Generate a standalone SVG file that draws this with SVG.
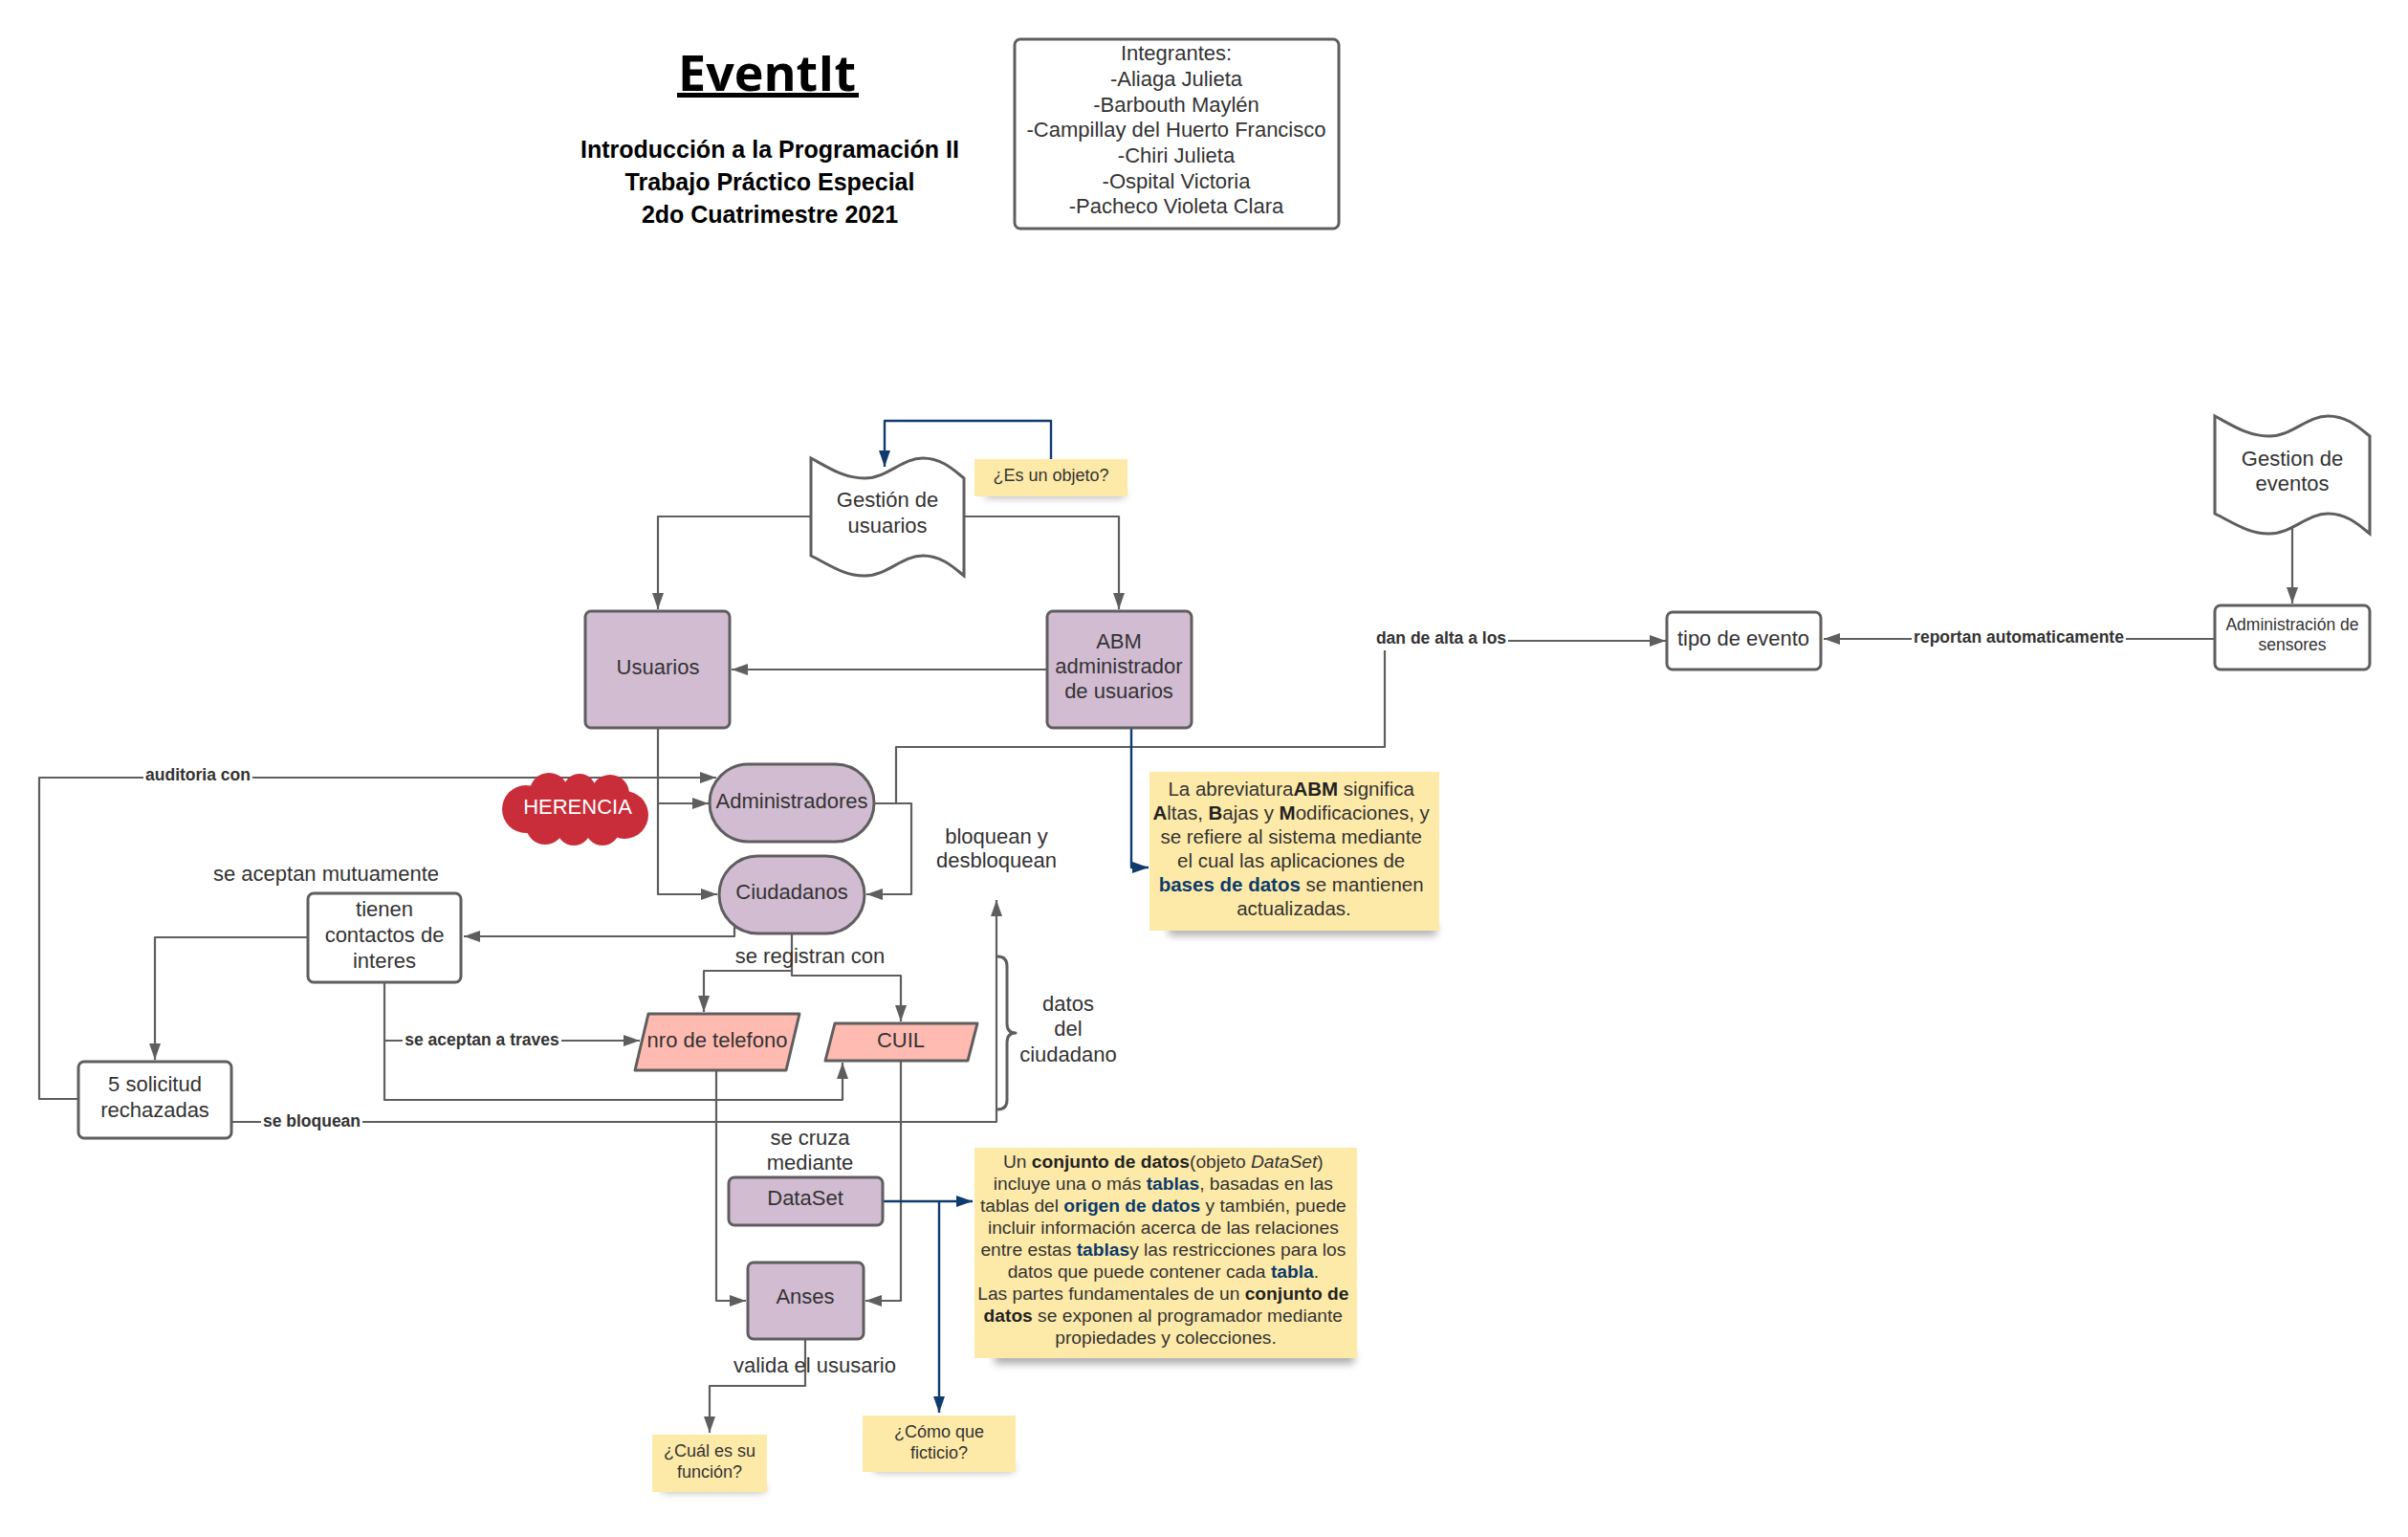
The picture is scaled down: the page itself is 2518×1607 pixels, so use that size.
<svg xmlns="http://www.w3.org/2000/svg" width="2518" height="1607" viewBox="0 0 2518 1607">
<defs>
<style>
text{font-family:"Liberation Sans",Arial,sans-serif;fill:#333;}
.n{font-size:22px;text-anchor:middle;}
.lbl{font-size:17.5px;font-weight:bold;text-anchor:middle;}
.sn{font-size:18px;text-anchor:middle;}
.box{fill:#fff;stroke:#5e5e5e;stroke-width:3;}
.lav{fill:#d2bcd2;stroke:#5e5e5e;stroke-width:3;}
.sal{fill:#ffbbb1;stroke:#5e5e5e;stroke-width:3;stroke-linejoin:round;}
.note{fill:#feeaa8;}
.shd{fill:#000;opacity:.32;}
.c{fill:none;stroke:#5e5e5e;stroke-width:2.2;stroke-linejoin:round;}
.ca{fill:none;stroke:#5e5e5e;stroke-width:2.2;stroke-linejoin:round;marker-end:url(#ag);}
.cb{fill:none;stroke:#0f3b6e;stroke-width:2.4;stroke-linejoin:round;marker-end:url(#ab);}
.bg{fill:#fff;}
.b{font-weight:bold;fill:#222;}
.bb{font-weight:bold;fill:#0b3a6b;}
</style>
<marker id="ag" markerUnits="userSpaceOnUse" markerWidth="18" markerHeight="12" refX="17" refY="6" orient="auto"><path d="M0,0 L17,6 L0,12 z" fill="#5e5e5e"/></marker>
<marker id="ab" markerUnits="userSpaceOnUse" markerWidth="18" markerHeight="12" refX="17" refY="6" orient="auto"><path d="M0,0 L17,6 L0,12 z" fill="#0f3b6e"/></marker>
<filter id="blur" x="-20%" y="-200%" width="140%" height="500%"><feGaussianBlur stdDeviation="4"/></filter>
<path id="tape" d="M0,0 C20,11 35,21 56,21 C80,21 95,0 117,0 C137,0 150,13 160,21 L160,123 C150,115 137,102 117,102 C95,102 80,123 56,123 C35,123 20,112 0,102 Z"/>
</defs>

<g id="title">
<text x="802" y="95" style="font-family:'Open Sans','Liberation Sans',sans-serif;font-weight:bold;font-size:52px;text-anchor:middle;fill:#000">EventIt</text>
<rect x="708" y="97" width="190" height="5" fill="#000"/>
<text x="805" y="165" style="font-weight:bold;font-size:25px;text-anchor:middle;fill:#000">Introducción a la Programación II</text>
<text x="805" y="199" style="font-weight:bold;font-size:25px;text-anchor:middle;fill:#000">Trabajo Práctico Especial</text>
<text x="805" y="233" style="font-weight:bold;font-size:25px;text-anchor:middle;fill:#000">2do Cuatrimestre 2021</text>
</g>

<g id="integrantes">
<rect class="box" x="1061" y="41" width="339" height="198" rx="6"/>
<text class="n" x="1230" y="63">Integrantes:</text>
<text class="n" x="1230" y="90">-Aliaga Julieta</text>
<text class="n" x="1230" y="117">-Barbouth Maylén</text>
<text class="n" x="1230" y="143">-Campillay del Huerto Francisco</text>
<text class="n" x="1230" y="170">-Chiri Julieta</text>
<text class="n" x="1230" y="197">-Ospital Victoria</text>
<text class="n" x="1230" y="223">-Pacheco Violeta Clara</text>
</g>

<g id="connectors">
<path class="ca" d="M848,540 H688 V637"/>
<path class="ca" d="M1008,540 H1170 V637"/>
<path class="ca" d="M1095,700 H765"/>
<path class="ca" d="M688,761 V935 H750"/>
<path class="ca" d="M688,840 H741"/>
<path class="ca" d="M914,840 H953 V935 H906"/>
<path class="ca" d="M914,840 H937 V781 H1448 V670 H1742"/>
<path class="ca" d="M82,1149 H41 V813 H749"/>
<path class="ca" d="M768,968 V979 H485"/>
<path class="ca" d="M322,980 H162 V1108"/>
<path class="ca" d="M402,1027 V1088 H669"/>
<path class="ca" d="M402,1088 V1150 H881 V1111"/>
<path class="ca" d="M242,1173 H1042 V941"/>
<path class="ca" d="M828,976 V1015 H736 V1058"/>
<path class="ca" d="M828,1015 V1020 H942 V1068"/>
<path class="ca" d="M749,1119 V1360 H780"/>
<path class="ca" d="M942,1109 V1360 H905"/>
<path class="ca" d="M842,1400 V1449 H742 V1498"/>
<path class="ca" d="M2397,548 V631"/>
<path class="ca" d="M2316,668 H1907"/>
<path class="cb" d="M1099,480 V440 H925 V488"/>
<path class="cb" d="M1183,761 V907 H1201"/>
<path class="cb" d="M923,1256 H1017"/>
<path class="cb" d="M982,1256 V1477"/>
<path class="c" style="stroke-width:3" d="M1043,1000 Q1053,1000 1053,1010 V1070 Q1053,1080 1062,1080 Q1053,1080 1053,1090 V1150 Q1053,1160 1043,1160"/>
<rect class="bg" x="150" y="803" width="114" height="20"/>
<text class="lbl" x="207" y="816">auditoria con</text>
<rect class="bg" x="421" y="1079" width="166" height="20"/>
<text class="lbl" x="504" y="1093">se aceptan a traves</text>
<rect class="bg" x="273" y="1163" width="106" height="20"/>
<text class="lbl" x="326" y="1178">se bloquean</text>
<rect class="bg" x="1437" y="658" width="140" height="22"/>
<text class="lbl" x="1507" y="673">dan de alta a los</text>
<rect class="bg" x="1999" y="657" width="224" height="22"/>
<text class="lbl" x="2111" y="672">reportan automaticamente</text>
<text class="n" x="847" y="1007">se registran con</text>
<text class="n" x="852" y="1435">valida el ususario</text>
</g>

<g id="texts">
<text class="n" x="341" y="921">se aceptan mutuamente</text>
<text class="n" x="1042" y="882">bloquean y</text>
<text class="n" x="1042" y="907">desbloquean</text>
<text class="n" x="1117" y="1057">datos</text>
<text class="n" x="1117" y="1083">del</text>
<text class="n" x="1117" y="1110">ciudadano</text>
<text class="n" x="847" y="1197">se cruza</text>
<text class="n" x="847" y="1223">mediante</text>
</g>

<g id="gestion-usuarios">
<use href="#tape" transform="translate(848,479)" fill="#fff" stroke="#5e5e5e" stroke-width="3"/>
<text class="n" x="928" y="530">Gestión de</text>
<text class="n" x="928" y="557">usuarios</text>
</g>

<g id="es-objeto">
<rect class="shd" x="1030" y="512" width="146" height="8" filter="url(#blur)"/>
<rect class="note" x="1019" y="480" width="160" height="39"/>
<text class="sn" x="1099" y="503">¿Es un objeto?</text>
</g>

<g id="usuarios">
<rect class="lav" x="612" y="639" width="151" height="122" rx="6"/>
<text class="n" x="688" y="705">Usuarios</text>
</g>

<g id="abm">
<rect class="lav" x="1095" y="639" width="151" height="122" rx="6"/>
<text class="n" x="1170" y="678">ABM</text>
<text class="n" x="1170" y="704">administrador</text>
<text class="n" x="1170" y="730">de usuarios</text>
</g>

<g id="nota-abm">
<rect class="shd" x="1222" y="966" width="280" height="12" filter="url(#blur)"/>
<rect class="note" x="1202" y="807" width="303" height="166"/>
<text style="font-size:20.5px;text-anchor:middle">
<tspan x="1353" y="832">La abreviatura<tspan class="b">ABM</tspan> significa</tspan>
<tspan x="1353" y="857"><tspan class="b">A</tspan>ltas, <tspan class="b">B</tspan>ajas y <tspan class="b">M</tspan>odificaciones, y</tspan>
<tspan x="1353" y="882">se refiere al sistema mediante</tspan>
<tspan x="1353" y="907">el cual las aplicaciones de</tspan>
<tspan x="1353" y="932"><tspan class="bb">bases de datos</tspan> se mantienen</tspan>
<tspan x="1353" y="957">actualizadas.</tspan>
</text>
</g>

<g id="herencia">
<g fill="#c92d39">
<circle cx="550" cy="846" r="25"/>
<circle cx="574" cy="828" r="20"/>
<circle cx="606" cy="826" r="17"/>
<circle cx="638" cy="830" r="20"/>
<circle cx="653" cy="852" r="25"/>
<circle cx="630" cy="866" r="18"/>
<circle cx="600" cy="866" r="18"/>
<circle cx="570" cy="863" r="20"/>
<ellipse cx="602" cy="848" rx="60" ry="26"/>
</g>
<text class="n" x="604" y="851" style="fill:#fff">HERENCIA</text>
</g>

<g id="administradores">
<rect class="lav" x="742" y="799" width="172" height="81" rx="40.5"/>
<text class="n" x="828" y="845">Administradores</text>
</g>

<g id="ciudadanos">
<rect class="lav" x="752" y="895" width="152" height="81" rx="40.5"/>
<text class="n" x="828" y="940">Ciudadanos</text>
</g>

<g id="tienen-contactos">
<rect class="box" x="322" y="934" width="160" height="93" rx="6"/>
<text class="n" x="402" y="958">tienen</text>
<text class="n" x="402" y="985">contactos de</text>
<text class="n" x="402" y="1012">interes</text>
</g>

<g id="solicitudes">
<rect class="box" x="82" y="1110" width="160" height="80" rx="6"/>
<text class="n" x="162" y="1141">5 solicitud</text>
<text class="n" x="162" y="1168">rechazadas</text>
</g>

<g id="nro-telefono">
<polygon class="sal" points="678,1060 836,1060 822,1119 664,1119"/>
<text class="n" x="750" y="1095">nro de telefono</text>
</g>

<g id="cuil">
<polygon class="sal" points="873,1070 1022,1070 1012,1109 863,1109"/>
<text class="n" x="942" y="1095">CUIL</text>
</g>

<g id="dataset">
<rect class="lav" x="762" y="1231" width="161" height="50" rx="6"/>
<text class="n" x="842" y="1260">DataSet</text>
</g>

<g id="nota-dataset">
<rect class="shd" x="1040" y="1412" width="376" height="14" filter="url(#blur)"/>
<rect class="note" x="1019" y="1200" width="400" height="220"/>
<text style="font-size:19.2px;text-anchor:middle">
<tspan x="1219" y="1221">Un <tspan class="b">conjunto de datos</tspan>(objeto <tspan font-style="italic">DataSet</tspan>)</tspan>
<tspan x="1219" y="1244">incluye una o más <tspan class="bb">tablas</tspan>, basadas en las</tspan>
<tspan x="1219" y="1267">tablas del <tspan class="bb">origen de datos</tspan> y también, puede</tspan>
<tspan x="1219" y="1290">incluir información acerca de las relaciones</tspan>
<tspan x="1219" y="1313">entre estas <tspan class="bb">tablas</tspan>y las restricciones para los</tspan>
<tspan x="1219" y="1336">datos que puede contener cada <tspan class="bb">tabla</tspan>.</tspan>
<tspan x="1219" y="1359">Las partes fundamentales de un <tspan class="b">conjunto de</tspan></tspan>
<tspan x="1219" y="1382"><tspan class="b">datos</tspan> se exponen al programador mediante</tspan>
<tspan x="1219" y="1405">propiedades y colecciones.</tspan>
</text>
</g>

<g id="anses">
<rect class="lav" x="782" y="1320" width="121" height="80" rx="6"/>
<text class="n" x="842" y="1363">Anses</text>
</g>

<g id="cual-funcion">
<rect class="shd" x="692" y="1552" width="108" height="8" filter="url(#blur)"/>
<rect class="note" x="682" y="1500" width="120" height="60"/>
<text class="sn" x="742" y="1523">¿Cuál es su</text>
<text class="sn" x="742" y="1545">función?</text>
</g>

<g id="como-ficticio">
<rect class="shd" x="914" y="1531" width="146" height="8" filter="url(#blur)"/>
<rect class="note" x="902" y="1480" width="160" height="59"/>
<text class="sn" x="982" y="1503">¿Cómo que</text>
<text class="sn" x="982" y="1525">ficticio?</text>
</g>

<g id="tipo-evento">
<rect class="box" x="1743" y="640" width="161" height="60" rx="6"/>
<text class="n" x="1823" y="675">tipo de evento</text>
</g>

<g id="gestion-eventos">
<use href="#tape" transform="translate(2316,435) scale(1.0125,1)" fill="#fff" stroke="#5e5e5e" stroke-width="3"/>
<text class="n" x="2397" y="487">Gestion de</text>
<text class="n" x="2397" y="513">eventos</text>
</g>

<g id="admin-sensores">
<rect class="box" x="2316" y="633" width="162" height="67" rx="6"/>
<text x="2397" y="659" style="font-size:17.5px;text-anchor:middle">Administración de</text>
<text x="2397" y="680" style="font-size:17.5px;text-anchor:middle">sensores</text>
</g>
</svg>
